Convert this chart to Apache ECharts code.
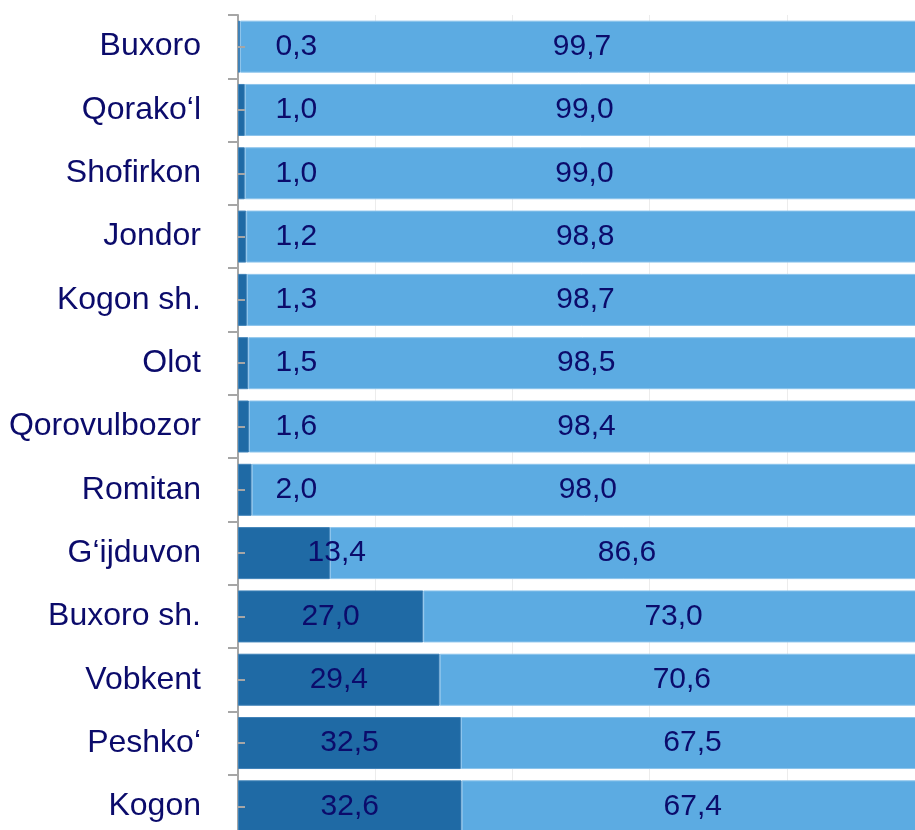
<!DOCTYPE html>
<html>
<head>
<meta charset="utf-8">
<script src="https://cdn.jsdelivr.net/npm/echarts@6/dist/echarts.min.js"></script>
<style>
  html, body { margin: 0; padding: 0; background: #fff; }
  #chart { width: 915px; height: 830px; }
</style>
</head>
<body>
<div id="chart"></div>
<script>
// tumanlar (yuqoridan pastga)
const districts = ['Buxoro', 'Qorako‘l', 'Shofirkon', 'Jondor', 'Kogon sh.', 'Olot', 'Qorovulbozor',
  'Romitan', 'G‘ijduvon', 'Buxoro sh.', 'Vobkent', 'Peshko‘', 'Kogon']
const darkShare = [0.3, 1.0, 1.0, 1.2, 1.3, 1.5, 1.6, 2.0, 13.4, 27.0, 29.4, 32.5, 32.6]
const lightShare = [99.7, 99.0, 99.0, 98.8, 98.7, 98.5, 98.4, 98.0, 86.6, 73.0, 70.6, 67.5, 67.4]

const textColor = '#0b0b6b'
const font = 'Liberation Sans, Arial'
const fmt = (v) => v.toFixed(1).replace('.', ',')

const chart = echarts.init(document.getElementById('chart'))

// kichik qiymatlar yorlig'i bar ichiga sig'maydi, shuning uchun o'ngga suriladi
function darkLabelX(v) {
  const u = v < 20 ? Math.max(v + 1, 8.5) : v / 2
  return chart.convertToPixel({ xAxisIndex: 0 }, u)
}

const option = {
  animation: false,
  grid: { left: 238, top: 15, width: 686, height: 823, outerBoundsMode: 'none' },
  xAxis: {
    type: 'value', min: 0, max: 100, interval: 20,
    axisLabel: { show: false },
    axisLine: { show: false },
    axisTick: { show: false },
    splitLine: { lineStyle: { color: '#ececec', width: 1 } }
  },
  yAxis: [
    {
      type: 'category', data: districts, inverse: true,
      axisLine: { show: true, lineStyle: { color: '#a6a6a6', width: 2 } },
      axisTick: { show: true, length: 10, lineStyle: { color: '#a6a6a6', width: 2 } },
      axisLabel: { color: textColor, fontSize: 32, fontFamily: font, margin: 37 }
    },
    {
      type: 'category', data: districts, inverse: true, position: 'left', z: 5,
      axisLine: { show: false },
      axisLabel: { show: false },
      axisTick: { show: true, inside: true, alignWithLabel: true, length: 7, lineStyle: { color: '#a6a6a6', width: 2 } }
    }
  ],
  series: [
    {
      type: 'bar', stack: 'total', data: darkShare, barWidth: 52,
      itemStyle: { color: '#1f6aa5', borderColor: '#3f82b8', borderWidth: 1 },
      label: {
        show: true, position: 'inside', color: textColor, fontSize: 30,
        fontFamily: font, formatter: (p) => fmt(p.value)
      },
      labelLayout: (p) => ({
        x: darkLabelX(darkShare[p.dataIndex]),
        y: p.rect.y + p.rect.height / 2,
        align: 'center', verticalAlign: 'middle'
      })
    },
    {
      type: 'bar', stack: 'total', data: lightShare, barWidth: 52,
      itemStyle: { color: '#5cabe2', borderColor: '#8cc4ec', borderWidth: 1 },
      label: {
        show: true, position: 'inside', color: textColor, fontSize: 30,
        fontFamily: font, formatter: (p) => fmt(p.value)
      }
    }
  ]
}

chart.setOption(option)
</script>
</body>
</html>
